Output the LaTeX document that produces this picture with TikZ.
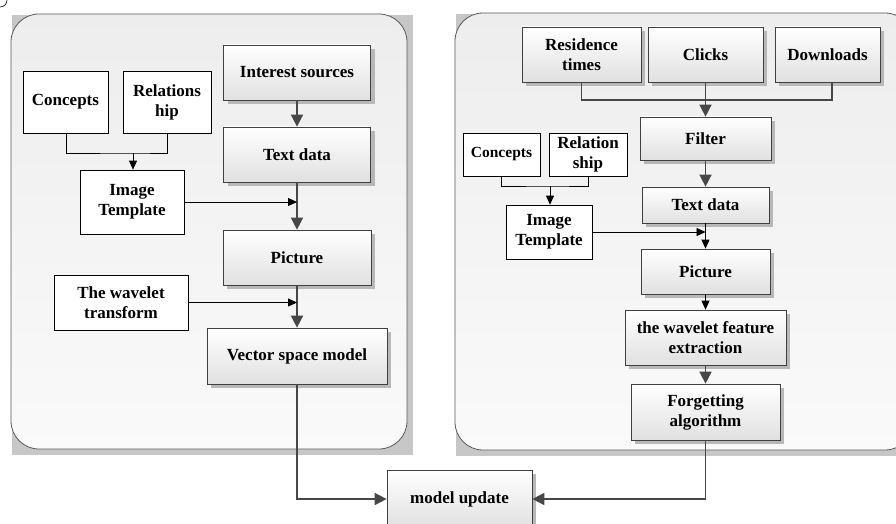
\documentclass[tikz,border=0pt]{standalone}
\usepackage{fontspec}
\setmainfont{Liberation Serif}
\usetikzlibrary{arrows.meta,shadows}
\begin{document}
\begin{tikzpicture}[x=1pt,y=-1pt,
  panelshadow/.style={fill=black!22, draw=none},
  panel/.style={draw=black!65, line width=0.8pt, rounded corners=28pt, top color=black!7, bottom color=black!2},
  gbox/.style={draw=black!75, line width=0.7pt, top color=white, bottom color=black!12,
     drop shadow={shadow xshift=4pt, shadow yshift=-4pt, fill=black!28, opacity=1},
     align=center, inner sep=2pt, font=\fontsize{17}{20}\selectfont\bfseries},
  wbox/.style={draw=black, line width=0.7pt, fill=white, align=center, inner sep=2pt,
     font=\fontsize{17}{20}\selectfont\bfseries},
  sm/.style={font=\fontsize{15.5}{19}\selectfont\bfseries},
  thick arrow/.style={draw=black!72, line width=1.5pt, -{Triangle[length=12pt,width=12pt]}},
  thick line/.style={draw=black!72, line width=1.5pt},
  thin arrow/.style={draw=black, line width=0.8pt, -{Triangle[length=9pt,width=8pt]}},
  thin line/.style={draw=black, line width=0.8pt},
]
\useasboundingbox (0,0) rectangle (896,524);
\fill[white] (0,0) rectangle (896,524);

% tiny arc at top-left
\draw[line width=0.6pt] (0,7) .. controls (4,7) and (7,4) .. (7,0);

% panels
\fill[panelshadow] (12,15) rectangle (413,455);
\path[panel] (11,14) rectangle (407,449);
\fill[panelshadow] (456,14) rectangle (920,456);
\path[panel] (455,13) rectangle (913,450);

% left panel nodes
\node[wbox, minimum width=85, minimum height=62] (lconc) at (65.5,102) {Concepts};
\node[wbox, minimum width=88, minimum height=62] (lrel) at (167,102) {Relations\\hip};
\node[wbox, minimum width=104, minimum height=64] (limg) at (132,202) {Image\\Template};
\node[gbox, minimum width=147, minimum height=55] (lint) at (297,72.5) {Interest sources};
\node[gbox, minimum width=147, minimum height=55] (ltext) at (297,154.5) {Text data};
\node[gbox, minimum width=148, minimum height=55] (lpic) at (297,257.5) {Picture};
\node[wbox, minimum width=134, minimum height=55] (lwav) at (121,302.5) {The wavelet\\transform};
\node[gbox, minimum width=180, minimum height=56] (lvec) at (297,356) {Vector space model};

% bottom node
\node[gbox, minimum width=145, minimum height=58] (mupd) at (459.5,499) {model update};

% right panel nodes
\node[gbox, minimum width=119, minimum height=55] (rres) at (581.5,54.5) {Residence\\times};
\node[gbox, minimum width=115, minimum height=55] (rclk) at (705.5,54.5) {Clicks};
\node[gbox, minimum width=105, minimum height=55] (rdl) at (827.5,54.5) {Downloads};
\node[gbox, minimum width=131, minimum height=43] (rfil) at (705.5,138.5) {Filter};
\node[gbox, minimum width=127, minimum height=36] (rtext) at (705.5,205) {Text data};
\node[wbox, sm, minimum width=77, minimum height=43] (rconc) at (501.5,154.5) {Concepts};
\node[wbox, minimum width=78, minimum height=43] (rrel) at (588,154.5) {Relation\\ship};
\node[wbox, minimum width=86, minimum height=54] (rimg) at (549,232) {Image\\Template};
\node[gbox, minimum width=129, minimum height=45] (rpic) at (705.5,271.5) {Picture};
\node[gbox, minimum width=161, minimum height=55] (rwav) at (705.5,337.5) {the wavelet feature\\extraction};
\node[gbox, minimum width=149, minimum height=56] (rforg) at (705.5,412) {Forgetting\\algorithm};

% left connectors
\coordinate (lmerge) at (133,153);
\draw[thin line] ([xshift=0.5pt]lconc.south) |- (lmerge) -| (lrel.south);
\draw[thin arrow] (lmerge) -- (limg.north -| lmerge);
\draw[thick arrow] (lint) -- (ltext);
\draw[thick arrow] (ltext) -- (lpic);
\draw[thin arrow] (limg.east) -- (limg.east -| ltext.south);
\draw[thick arrow] (lpic) -- (lvec);
\draw[thin arrow] (lwav.east) -- (lwav.east -| lpic.south);
\draw[thick arrow] (lvec.south) |- (mupd.west);

% right connectors
\draw[thick line] (rres.south) |- (rclk.south |- 0,100) -| ([xshift=4.5pt]rdl.south);
\draw[thick arrow] (rclk) -- (rfil);
\draw[thick arrow] (rfil) -- (rtext);
\draw[thin arrow] (rtext) -- (rpic);
\coordinate (rmerge) at (550,186);
\draw[thin line] (rconc.south) |- (rmerge) -| (rrel.south);
\draw[thin arrow] (rmerge) -- (rimg.north -| rmerge);
\draw[thin arrow] (rimg.east) -- (rimg.east -| rtext.south);
\draw[thin arrow] (rpic) -- (rwav);
\draw[thick arrow] (rwav) -- (rforg);
\draw[thick arrow] (rforg.south) |- (mupd.east);
\end{tikzpicture}
\end{document}
